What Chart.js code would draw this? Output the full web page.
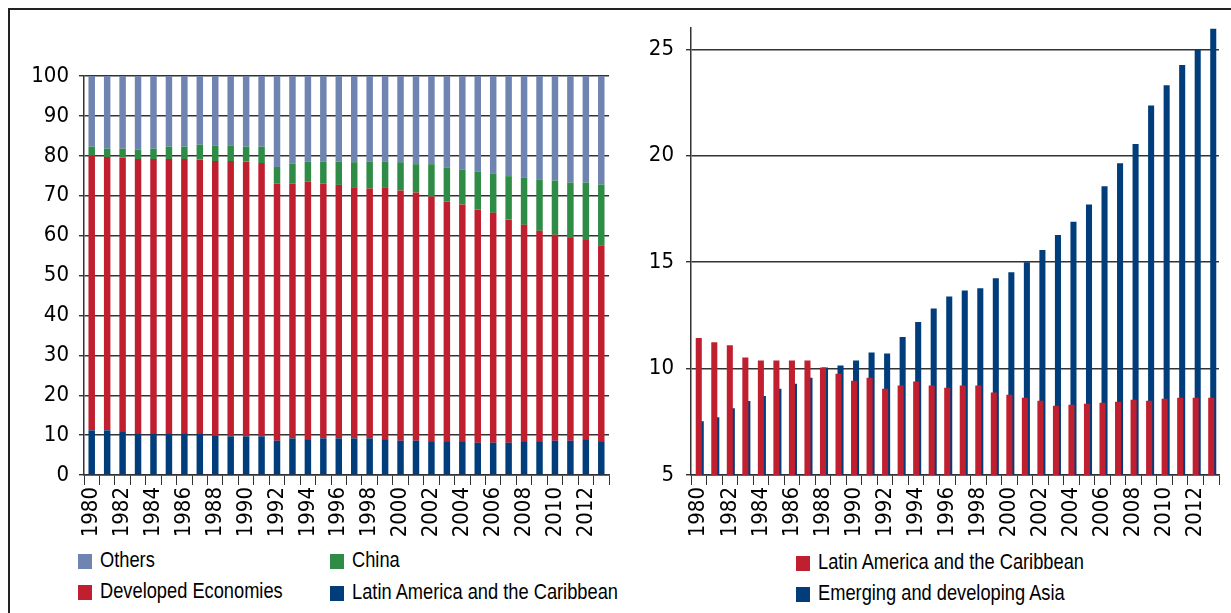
<!DOCTYPE html>
<html>
<head>
<meta charset="utf-8">
<script src="https://cdn.jsdelivr.net/npm/chart.js@4.4.1/dist/chart.umd.min.js"></script>
<style>
  body { margin: 0; background: #fff; width: 1231px; height: 613px; overflow: hidden; position: relative; }
  .frame { position: absolute; left: 8px; top: 8px; width: 1240px; height: 620px;
           border-left: 2px solid #222; border-top: 2px solid #222; }
  #left { position: absolute; left: 0; top: 0; }
  #right { position: absolute; left: 620px; top: 0; }
  .leg { position: absolute; font-family: "Liberation Sans", Arial, sans-serif; font-size: 22px; color: #000;
         white-space: nowrap; line-height: 20px; }
  .leg span { display: inline-block; width: 14px; height: 15px; vertical-align: -2px; margin-right: 8px; }
  .leg b { display: inline-block; font-weight: normal; transform: scaleX(0.83); transform-origin: left center; }
</style>
</head>
<body>
<div class="frame"></div>
<canvas id="left" width="620" height="545"></canvas>
<canvas id="right" width="611" height="545"></canvas>

<div class="leg" style="left:78px; top:550px;"><span style="background:#6f84b0"></span><b>Others</b></div>
<div class="leg" style="left:330px; top:550px;"><span style="background:#2e8c46"></span><b>China</b></div>
<div class="leg" style="left:78px; top:581px;"><span style="background:#c01f30"></span><b>Developed Economies</b></div>
<div class="leg" style="left:330px; top:582px;"><span style="background:#003d7a"></span><b>Latin America and the Caribbean</b></div>
<div class="leg" style="left:796px; top:552px;"><span style="background:#c01f30"></span><b>Latin America and the Caribbean</b></div>
<div class="leg" style="left:796px; top:583px;"><span style="background:#003d7a"></span><b>Emerging and developing Asia</b></div>

<script>
// years 1980-2013
const years = [];
for (let y = 1980; y <= 2013; y++) years.push(String(y));

// left panel: shares of world GDP (stack segments, percent)
const lacShare = [11.2, 11.2, 10.8, 10.3, 10.3, 10.3, 10.3, 10.3, 9.8, 9.7, 9.7, 9.7, 8.6, 9.2, 8.8, 9.2, 9.2,
  9.2, 9.2, 8.8, 8.6, 8.6, 8.3, 8.3, 8.3, 8.1, 8.1, 8.1, 8.3, 8.3, 8.6, 8.6, 8.8, 8.3];
const developedShare = [68.8, 68.5, 68.8, 68.9, 68.9, 68.9, 68.9, 68.8, 68.9, 69.0, 68.9, 68.5, 64.4, 63.8, 64.7,
  63.8, 63.5, 62.9, 62.6, 63.3, 62.7, 62.2, 61.5, 60.2, 59.5, 58.4, 57.6, 55.9, 54.4, 52.9, 51.6, 50.8, 50.1, 49.3];
const chinaShare = [2.3, 2.1, 2.2, 2.3, 2.6, 3.1, 3.1, 3.7, 3.8, 3.8, 3.7, 4.1, 4.2, 5.0, 5.0, 5.5, 5.8, 6.3, 6.8,
  6.5, 7.1, 7.1, 8.1, 8.6, 8.8, 9.6, 9.9, 10.9, 11.9, 12.9, 13.6, 13.9, 14.4, 15.2];
const othersShare = [17.7, 18.2, 18.2, 18.5, 18.2, 17.7, 17.7, 17.2, 17.5, 17.5, 17.7, 17.7, 22.8, 22.0, 21.5, 21.5,
  21.5, 21.6, 21.4, 21.4, 21.6, 22.1, 22.1, 22.9, 23.4, 23.9, 24.4, 25.1, 25.4, 25.9, 26.2, 26.7, 26.7, 27.2];

// right panel
const lacRight = [11.44, 11.24, 11.10, 10.52, 10.38, 10.38, 10.38, 10.38, 10.05, 9.76, 9.43, 9.57, 9.05, 9.20, 9.39,
  9.20, 9.10, 9.20, 9.20, 8.87, 8.77, 8.63, 8.49, 8.25, 8.30, 8.35, 8.39, 8.44, 8.53, 8.49, 8.58, 8.63, 8.63, 8.63];
const asiaRight = [7.52, 7.71, 8.14, 8.48, 8.71, 9.05, 9.29, 9.57, 10.05, 10.14, 10.38, 10.76, 10.71, 11.48, 12.19,
  12.82, 13.39, 13.67, 13.77, 14.24, 14.53, 15.0, 15.57, 16.28, 16.90, 17.71, 18.56, 19.65, 20.55, 22.36, 23.31,
  24.26, 25.0, 25.97];
const rightTicks = [5, 10, 15, 20, 25];

const FONT = '"DejaVu Sans Condensed", "Liberation Sans", sans-serif';
Chart.defaults.font.family = FONT;
Chart.defaults.color = '#000';
Chart.defaults.animation = false;

const gridColor = '#333';

function xAxis() {
  return {
    offset: true,
    grid: { display: true, drawOnChartArea: false, drawTicks: true, tickLength: 10, color: gridColor, offset: true },
    border: { display: true, color: gridColor, width: 1.5 },
    ticks: {
      autoSkip: false, minRotation: 90, maxRotation: 90, padding: 2,
      font: { size: 22 },
      callback: function (v, i) { return i % 2 === 0 ? this.getLabelForValue(v) : ''; }
    },
    afterFit: s => { s.height = 70; s.paddingLeft = 0; s.paddingRight = 0; }
  };
}

// left: stacked shares
new Chart(document.getElementById('left'), {
  type: 'bar',
  data: {
    labels: years,
    datasets: [
      { label: 'Latin America and the Caribbean', data: lacShare, backgroundColor: '#003d7a' },
      { label: 'Developed Economies', data: developedShare, backgroundColor: '#c01f30' },
      { label: 'China', data: chinaShare, backgroundColor: '#2e8c46' },
      { label: 'Others', data: othersShare, backgroundColor: '#6f84b0' }
    ]
  },
  options: {
    responsive: false,
    layout: { padding: { top: 76, right: 11, left: 0, bottom: 0 } },
    datasets: { bar: { barPercentage: 0.42, categoryPercentage: 1 } },
    plugins: { legend: { display: false }, tooltip: { enabled: false } },
    scales: {
      x: Object.assign(xAxis(), { stacked: true }),
      y: {
        stacked: true, min: 0, max: 100,
        grid: { color: gridColor, lineWidth: 1.4, tickLength: 5 },
        border: { display: true, color: gridColor, width: 1.5 },
        ticks: { stepSize: 10, padding: 10, font: { size: 22 } },
        afterFit: s => { s.width = 84; }
      }
    }
  }
});

// draw the Asia bars a little to the right, behind the red ones
const shiftBack = {
  id: 'shiftBack',
  beforeDatasetDraw(chart, args) {
    if (args.index === 1) { chart.ctx.save(); chart.ctx.translate(2, 0); }
  },
  afterDatasetDraw(chart, args) {
    if (args.index === 1) chart.ctx.restore();
  }
};

new Chart(document.getElementById('right'), {
  type: 'bar',
  data: {
    labels: years,
    datasets: [
      { label: 'Latin America and the Caribbean', data: lacRight, backgroundColor: '#c01f30' },
      { label: 'Emerging and developing Asia', data: asiaRight, backgroundColor: '#003d7a' }
    ]
  },
  plugins: [shiftBack],
  options: {
    responsive: false,
    layout: { padding: { top: 28, right: 12, left: 0, bottom: 0 } },
    datasets: { bar: { grouped: false, barPercentage: 0.39, categoryPercentage: 1 } },
    plugins: { legend: { display: false }, tooltip: { enabled: false } },
    scales: {
      x: xAxis(),
      y: {
        min: 5, max: 26,
        grid: { color: gridColor, lineWidth: 1.4, tickLength: 5 },
        border: { display: true, color: gridColor, width: 1.5 },
        ticks: { padding: 12, font: { size: 22 } },
        afterBuildTicks: s => { s.ticks = rightTicks.map(v => ({ value: v })); },
        afterFit: s => { s.width = 71; }
      }
    }
  }
});
</script>
</body>
</html>
